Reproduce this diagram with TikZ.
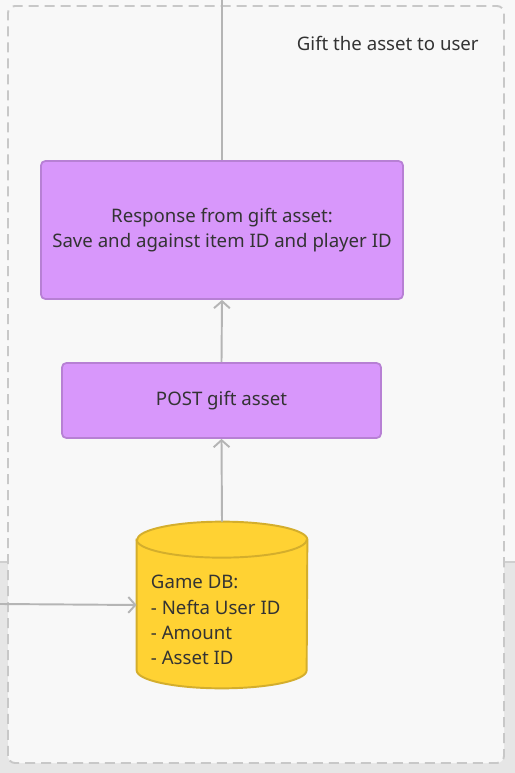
\documentclass[tikz,border=0pt]{standalone}
\usepackage{fontspec}
\setmainfont{Noto Sans}
\usepackage{xcolor}
\usetikzlibrary{arrows.meta}
\definecolor{pagebg}{HTML}{F8F8F8}
\definecolor{bandbg}{HTML}{E6E6E6}
\definecolor{bandline}{HTML}{CFCFCF}
\definecolor{framegray}{HTML}{C8C8C8}
\definecolor{linkgray}{HTML}{B5B5B5}
\definecolor{violetfill}{HTML}{D897FB}
\definecolor{violetline}{HTML}{B780D4}
\definecolor{dbfill}{HTML}{FFD233}
\definecolor{dbline}{HTML}{D4AE2C}
\definecolor{inkgray}{HTML}{333333}

\begin{document}
\begin{tikzpicture}[font=\fontsize{10.6}{14.3}\selectfont, text=inkgray,
  stepbox/.style={draw=violetline, fill=violetfill, line width=1pt, rounded corners=2.5pt, align=center},
  link/.style={draw=linkgray, line width=1.1pt, -{Straight Barb[length=4pt,width=9pt,line width=1.1pt]}},
  dbedge/.style={draw=dbline, fill=dbfill, line width=1.1pt}]
  \useasboundingbox (0,0) rectangle (10.3,15.46);
  \fill[pagebg] (0,0) rectangle (10.3,15.46);
  \fill[bandbg] (0,0) rectangle (10.3,4.22);
  \draw[bandline, line width=1pt] (0,4.22) -- (10.3,4.22);
  \draw[framegray, fill=pagebg, line width=1.1pt, dash pattern=on 5.7pt off 3.4pt, rounded corners=4pt]
    (0.16,0.2) rectangle (10.08,15.34);
  \node[anchor=east, inner sep=0pt] (title) at (9.58,14.6) {Gift the asset to user};

  \node[stepbox, minimum width=7.24cm, minimum height=2.76cm] (response) at (4.44,10.86)
    {Response from gift asset:\\Save and against item ID and player ID};
  \node[stepbox, minimum width=6.38cm, minimum height=1.5cm] (post) at (4.43,7.45) {POST gift asset};
  \node[minimum width=3.4cm, minimum height=3.32cm, inner sep=0pt] (db) at (4.44,3.36) {};
  \draw[dbedge] ([yshift=-0.36cm]db.north west) -- ([yshift=0.36cm]db.south west)
    arc[start angle=180, end angle=360, x radius=1.7cm, y radius=0.36cm]
    -- ([yshift=-0.36cm]db.north east)
    arc[start angle=0, end angle=180, x radius=1.7cm, y radius=0.36cm] -- cycle;
  \draw[dbedge, fill=none] ([yshift=-0.36cm]db.north west)
    arc[start angle=180, end angle=360, x radius=1.7cm, y radius=0.36cm];
  \node[anchor=west, align=left, inner sep=0pt] (dbtext) at ([xshift=0.28cm, yshift=-0.3cm]db.west)
    {Game DB:\\- Nefta User ID\\- Amount\\- Asset ID};

  \coordinate (topend) at (4.44,15.46);
  \coordinate (leftend) at (0,3.38);
  \draw[draw=linkgray, line width=1.1pt] (response.north) -- (topend);
  \draw[link] (post.north) -- (response.south);
  \draw[link] (db.north) -- (post.south);
  \draw[link] (leftend) -- (db.west);
\end{tikzpicture}
\end{document}
